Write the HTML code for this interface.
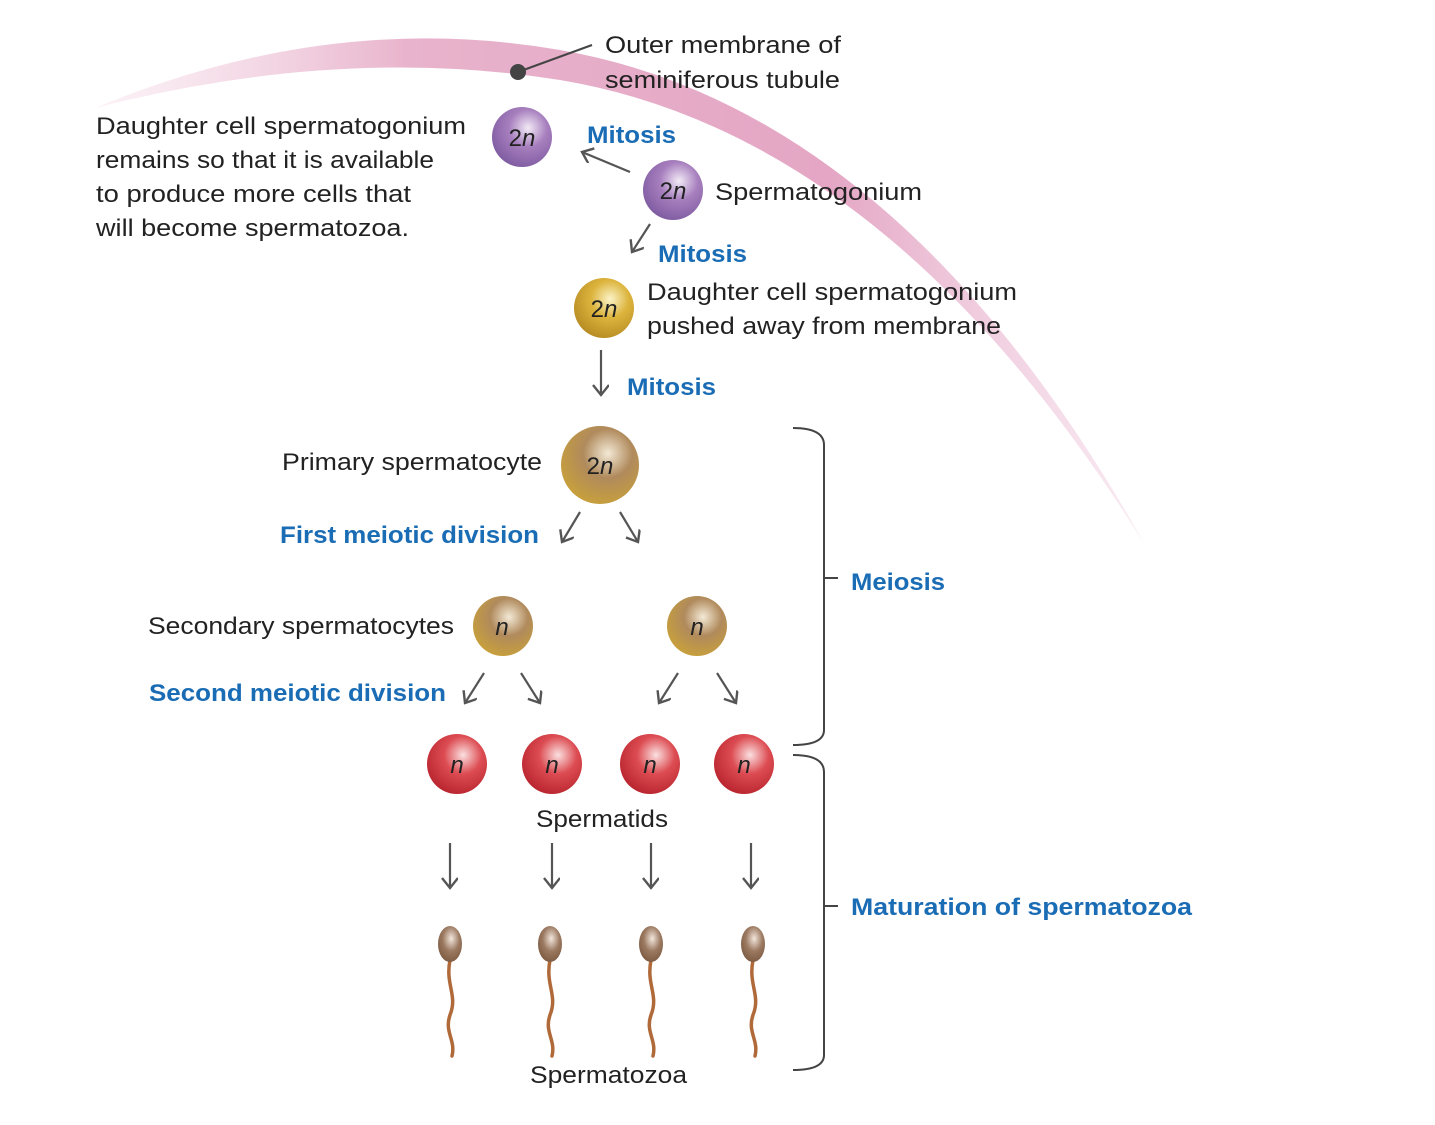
<!DOCTYPE html>
<html><head><meta charset="utf-8"><style>
html,body{margin:0;padding:0;background:#fff;}
svg{display:block;}
text{font-family:"Liberation Sans",sans-serif;font-size:24px;fill:#222;}
.b{fill:#1a6db5;font-weight:bold;font-size:24px;}
.c{font-size:24px;fill:#222;text-anchor:middle;}
</style></head><body>
<svg width="1435" height="1125" viewBox="0 0 1435 1125" xmlns="http://www.w3.org/2000/svg">
<defs>
<linearGradient id="mem" x1="0" y1="0" x2="1" y2="0">
<stop offset="0" stop-color="#f3d5e3" stop-opacity="0.3"/>
<stop offset="0.3" stop-color="#e8b3cc"/>
<stop offset="0.7" stop-color="#e4a6c4"/>
<stop offset="1" stop-color="#f0cde0" stop-opacity="0.4"/>
</linearGradient>
<radialGradient id="pur" cx="0.6" cy="0.35" r="0.7"><stop offset="0" stop-color="#f2eaf6"/><stop offset="0.45" stop-color="#a77fbe"/><stop offset="1" stop-color="#7d5aa0"/></radialGradient>
<radialGradient id="yel" cx="0.6" cy="0.35" r="0.7"><stop offset="0" stop-color="#fbf3c8"/><stop offset="0.45" stop-color="#dcb43c"/><stop offset="1" stop-color="#b58a22"/></radialGradient>
<radialGradient id="brn" cx="0.6" cy="0.35" r="0.7"><stop offset="0" stop-color="#f3e9d6"/><stop offset="0.45" stop-color="#b08a5c"/><stop offset="1" stop-color="#c9a13a"/></radialGradient>
<radialGradient id="red" cx="0.6" cy="0.35" r="0.7"><stop offset="0" stop-color="#fbe0e0"/><stop offset="0.45" stop-color="#dc4c52"/><stop offset="1" stop-color="#b8232d"/></radialGradient>
<radialGradient id="hd" cx="0.55" cy="0.35" r="0.7"><stop offset="0" stop-color="#f2e6dc"/><stop offset="0.5" stop-color="#9c7a62"/><stop offset="1" stop-color="#7a573f"/></radialGradient>
<marker id="ah" markerWidth="16" markerHeight="18" refX="12" refY="8" orient="auto" markerUnits="userSpaceOnUse">
<path d="M2,0 L12,8 L2,16" fill="none" stroke="#555" stroke-width="2.4"/></marker>
</defs>
<!-- membrane -->
<path d="M95,108 Q330,10 560,50 Q900,109 1145,545 Q890,135 560,80 Q340,45 95,108 Z" fill="url(#mem)"/>
<!-- pointer -->
<line x1="518" y1="72" x2="592" y2="45" stroke="#444" stroke-width="2"/>
<circle cx="518" cy="72" r="8" fill="#444"/>
<text x="605" y="53" textLength="236" lengthAdjust="spacingAndGlyphs">Outer membrane of</text>
<text x="605" y="88" textLength="235" lengthAdjust="spacingAndGlyphs">seminiferous tubule</text>
<text x="96" y="134" textLength="370" lengthAdjust="spacingAndGlyphs">Daughter cell spermatogonium</text>
<text x="96" y="168" textLength="338" lengthAdjust="spacingAndGlyphs">remains so that it is available</text>
<text x="96" y="202" textLength="315" lengthAdjust="spacingAndGlyphs">to produce more cells that</text>
<text x="96" y="236" textLength="313" lengthAdjust="spacingAndGlyphs">will become spermatozoa.</text>
<!-- cells -->
<circle cx="522" cy="137" r="30" fill="url(#pur)"/>
<text x="522" y="146" class="c">2<tspan font-style="italic">n</tspan></text>
<circle cx="673" cy="190" r="30" fill="url(#pur)"/>
<text x="673" y="199" class="c">2<tspan font-style="italic">n</tspan></text>
<text x="715" y="200" textLength="207" lengthAdjust="spacingAndGlyphs">Spermatogonium</text>
<text x="587" y="143" class="b" textLength="89" lengthAdjust="spacingAndGlyphs">Mitosis</text>
<line x1="630" y1="172" x2="582" y2="152" stroke="#555" stroke-width="2.2" marker-end="url(#ah)"/>
<line x1="650" y1="224" x2="632" y2="252" stroke="#555" stroke-width="2.2" marker-end="url(#ah)"/>
<text x="658" y="262" class="b" textLength="89" lengthAdjust="spacingAndGlyphs">Mitosis</text>
<circle cx="604" cy="308" r="30" fill="url(#yel)"/>
<text x="604" y="317" class="c">2<tspan font-style="italic">n</tspan></text>
<text x="647" y="300" textLength="370" lengthAdjust="spacingAndGlyphs">Daughter cell spermatogonium</text>
<text x="647" y="334" textLength="354" lengthAdjust="spacingAndGlyphs">pushed away from membrane</text>
<line x1="601" y1="350" x2="601" y2="395" stroke="#555" stroke-width="2.2" marker-end="url(#ah)"/>
<text x="627" y="395" class="b" textLength="89" lengthAdjust="spacingAndGlyphs">Mitosis</text>
<circle cx="600" cy="465" r="39" fill="url(#brn)"/>
<text x="600" y="474" class="c">2<tspan font-style="italic">n</tspan></text>
<text x="282" y="470" textLength="260" lengthAdjust="spacingAndGlyphs">Primary spermatocyte</text>
<text x="280" y="543" class="b" textLength="259" lengthAdjust="spacingAndGlyphs">First meiotic division</text>
<line x1="580" y1="512" x2="562" y2="542" stroke="#555" stroke-width="2.2" marker-end="url(#ah)"/>
<line x1="620" y1="512" x2="638" y2="542" stroke="#555" stroke-width="2.2" marker-end="url(#ah)"/>
<circle cx="503" cy="626" r="30" fill="url(#brn)"/>
<text x="502" y="635" class="c" font-style="italic">n</text>
<circle cx="697" cy="626" r="30" fill="url(#brn)"/>
<text x="697" y="635" class="c" font-style="italic">n</text>
<text x="148" y="634" textLength="306" lengthAdjust="spacingAndGlyphs">Secondary spermatocytes</text>
<text x="149" y="701" class="b" textLength="297" lengthAdjust="spacingAndGlyphs">Second meiotic division</text>
<line x1="484" y1="673" x2="465" y2="703" stroke="#555" stroke-width="2.2" marker-end="url(#ah)"/>
<line x1="521" y1="673" x2="540" y2="703" stroke="#555" stroke-width="2.2" marker-end="url(#ah)"/>
<line x1="678" y1="673" x2="659" y2="703" stroke="#555" stroke-width="2.2" marker-end="url(#ah)"/>
<line x1="717" y1="673" x2="736" y2="703" stroke="#555" stroke-width="2.2" marker-end="url(#ah)"/>
<circle cx="457" cy="764" r="30" fill="url(#red)"/><text x="457" y="773" class="c" font-style="italic">n</text>
<circle cx="552" cy="764" r="30" fill="url(#red)"/><text x="552" y="773" class="c" font-style="italic">n</text>
<circle cx="650" cy="764" r="30" fill="url(#red)"/><text x="650" y="773" class="c" font-style="italic">n</text>
<circle cx="744" cy="764" r="30" fill="url(#red)"/><text x="744" y="773" class="c" font-style="italic">n</text>
<text x="536" y="827" textLength="132" lengthAdjust="spacingAndGlyphs">Spermatids</text>
<line x1="450" y1="843" x2="450" y2="888" stroke="#555" stroke-width="2.2" marker-end="url(#ah)"/>
<line x1="552" y1="843" x2="552" y2="888" stroke="#555" stroke-width="2.2" marker-end="url(#ah)"/>
<line x1="651" y1="843" x2="651" y2="888" stroke="#555" stroke-width="2.2" marker-end="url(#ah)"/>
<line x1="751" y1="843" x2="751" y2="888" stroke="#555" stroke-width="2.2" marker-end="url(#ah)"/>
<!-- sperm -->
<g fill="none" stroke="#b06a3a" stroke-width="3.5" stroke-linecap="round">
<path d="M450,960 C445,985 458,995 450,1015 C444,1032 456,1040 452,1056"/>
<path d="M550,960 C545,985 558,995 550,1015 C544,1032 556,1040 552,1056"/>
<path d="M651,960 C646,985 659,995 651,1015 C645,1032 657,1040 653,1056"/>
<path d="M753,960 C748,985 761,995 753,1015 C747,1032 759,1040 755,1056"/>
</g>
<ellipse cx="450" cy="944" rx="12" ry="18" fill="url(#hd)"/>
<ellipse cx="550" cy="944" rx="12" ry="18" fill="url(#hd)"/>
<ellipse cx="651" cy="944" rx="12" ry="18" fill="url(#hd)"/>
<ellipse cx="753" cy="944" rx="12" ry="18" fill="url(#hd)"/>
<text x="530" y="1083" textLength="157" lengthAdjust="spacingAndGlyphs">Spermatozoa</text>
<!-- braces -->
<g fill="none" stroke="#444" stroke-width="2">
<path d="M793,428 Q824,428 824,445 L824,730 Q824,745 793,745"/>
<line x1="824" y1="578" x2="838" y2="578"/>
<path d="M793,755 Q824,755 824,772 L824,1055 Q824,1070 793,1070"/>
<line x1="824" y1="906" x2="838" y2="906"/>
</g>
<text x="851" y="590" class="b" textLength="94" lengthAdjust="spacingAndGlyphs">Meiosis</text>
<text x="851" y="915" class="b" textLength="341" lengthAdjust="spacingAndGlyphs">Maturation of spermatozoa</text>
</svg>
</body></html>
